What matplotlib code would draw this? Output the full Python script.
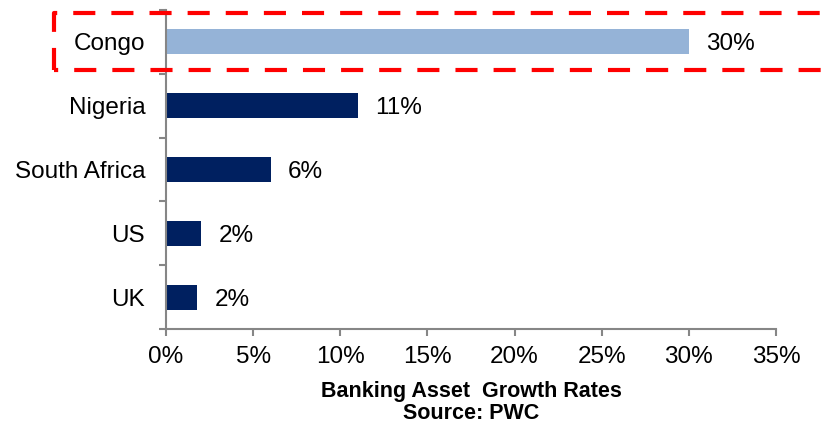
import matplotlib
matplotlib.use('AGG')
import matplotlib.pyplot as plt
from matplotlib.lines import Line2D
from matplotlib.ticker import FixedLocator

countries = ['Congo', 'Nigeria', 'South Africa', 'US', 'UK']
growth = [30.0, 11.0, 6.0, 2.0, 1.8]
labels = ['30%', '11%', '6%', '2%', '2%']
colors = ['#95b3d7', '#002060', '#002060', '#002060', '#002060']

plt.rcParams['font.family'] = ['Liberation Sans', 'DejaVu Sans']
axis_gray = '#868686'
fs = 17.5

fig = plt.figure(figsize=(8.21, 4.25), dpi=100)
ax = fig.add_axes([0.2022, 0.2259, 0.7430, 0.7506])

pos = list(range(len(countries)))
ax.barh(pos, growth, height=0.39, color=colors)
ax.set_ylim(len(countries) - 0.5, -0.5)
ax.set_xlim(0, 35)

for p, v, lab in zip(pos, growth, labels):
    ax.text(v + 1.0, p + 0.04, lab, va='center', ha='left', fontsize=fs)

ax.set_yticks(pos)
ax.set_yticklabels(countries, fontsize=fs)
ax.tick_params(axis='y', which='major', length=0, pad=15)
ax.yaxis.set_minor_locator(FixedLocator([i - 0.5 for i in range(len(countries) + 1)]))
ax.tick_params(axis='y', which='minor', length=5, color=axis_gray, width=1.5)

ax.set_xticks(range(0, 36, 5))
ax.set_xticklabels([f'{t}%' for t in range(0, 36, 5)], fontsize=fs)
ax.tick_params(axis='x', length=5, color=axis_gray, width=1.5, pad=7)

for s in ['top', 'right']:
    ax.spines[s].set_visible(False)
for s in ['left', 'bottom']:
    ax.spines[s].set_color(axis_gray)
    ax.spines[s].set_linewidth(1.5)

ax.set_xlabel('Banking Asset  Growth Rates\nSource: PWC', fontsize=15.5,
              fontweight='bold', labelpad=9.5, linespacing=1.08)

# red dashed highlight around Congo (runs off the right edge)
W, H = 821, 425
x0, x1, ytop, ybot = 54, 840, 13, 70
dash = (5.3, 3.85)
fig.add_artist(Line2D([x0 / W, x0 / W, x1 / W], [1 - ybot / H, 1 - ytop / H, 1 - ytop / H],
                      transform=fig.transFigure, color='#ff0000', linewidth=3,
                      linestyle=(0, dash), solid_capstyle='butt', zorder=5))
fig.add_artist(Line2D([x0 / W, x1 / W], [1 - ybot / H, 1 - ybot / H],
                      transform=fig.transFigure, color='#ff0000', linewidth=3,
                      linestyle=(4.3, dash), zorder=5))

fig.savefig('out.png', dpi=100)
